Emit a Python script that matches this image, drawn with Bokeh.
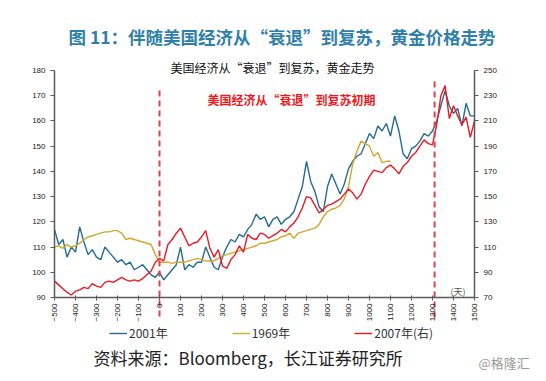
from bokeh.plotting import figure
from bokeh.models import Range1d, LinearAxis, FixedTicker, Label, Legend, LegendItem
from bokeh.embed import file_html
from bokeh.resources import INLINE

# ---------------- data ----------------
days = list(range(-500, 1501, 20))

s2001 = [117, 111, 113, 106, 110, 108, 118, 112, 107, 109,
         106, 105, 110, 108, 106, 104, 105, 103, 104, 101,
         102, 103, 101, 99, 98, 100, 97, 99, 101, 103,
         110, 101, 103, 102, 104, 104, 110, 106, 102, 101,
         106, 110, 113, 112, 115, 114, 117, 119, 123, 121,
         122, 118, 121, 122, 119, 121, 122, 124, 129, 134,
         144, 136, 132, 126, 124, 134, 139, 135, 131, 135,
         141, 144, 146, 147, 151, 155, 153, 158, 156, 159,
         154, 162, 156, 147, 145, 149, 150, 152, 155, 154,
         156, 160, 166, 172, 166, 163, 165, 158, 167, 162,
         162]

s1969 = [110, 110.5, 109.5, 111, 110, 110.5, 111.5, 113, 114, 114.5,
         115, 115.5, 116, 116, 116.5, 116.5, 115.5, 113, 113.5, 113,
         112.5, 112, 111.5, 111, 107, 104, 104, 104, 103.5, 104,
         104, 104, 104.5, 105, 105.5, 105, 104.5, 104.5, 104.5, 105.5,
         106.5, 107, 107.5, 108, 108.5, 109, 109.5, 110, 110.5, 111.5,
         111.5, 112, 112.5, 113, 114, 114.5, 115.5, 113.5, 115.5, 116,
         116.5, 117, 117.5, 119, 122, 124, 125, 125.5, 126.5, 129,
         134, 143, 148, 152, 151, 150, 146, 147.5, 143.5, 144,
         144]

s2007 = [83, 80, 77, 74, 72, 75, 76, 78, 77, 81,
         79, 78, 82, 83, 82, 84, 86, 84, 83, 84,
         83, 85, 88, 91, 98, 101, 99, 112, 116, 121,
         125, 118, 111, 113, 114, 118, 123, 109, 102, 108,
         95, 93, 100, 104, 111, 106, 120, 117, 116, 121,
         120, 117, 119, 121, 124, 122, 126, 129, 134, 141,
         150, 149, 143, 137, 140, 143, 144, 146, 148, 152,
         156, 153, 148, 152, 160, 166, 171, 170, 169, 173,
         175, 172, 168, 174, 177, 182, 185, 190, 195, 192,
         191, 207, 230, 238, 212, 222, 214, 207, 213, 197,
         210]

x_ticks = [-500, -400, -300, -200, -100, 0, 100, 200, 300, 400, 500, 600, 700,
           800, 900, 1000, 1100, 1200, 1300, 1400, 1500]
left_ticks = [90, 100, 110, 120, 130, 140, 150, 160, 170, 180]
right_ticks = [70, 90, 110, 130, 150, 170, 190, 210, 230, 250]
recession_marks = [0, 1310]
series_names = ["2001年", "1969年", "2007年(右)"]

X_MIN, X_MAX = -500, 1500
YL_MIN, YL_MAX = 90, 180
YR_MIN, YR_MAX = 70, 250

# ---------------- layout geometry (page pixels) ----------------
W, H = 530, 372
FX, FY = 8, 8                     # figure origin on the page
PL, PR, PT, PB = 62, 482, 78, 305  # data area on the page

kx = (X_MAX - X_MIN) / (PR - PL)
kyl = (YL_MAX - YL_MIN) / (PB - PT)
kyr = (YR_MAX - YR_MIN) / (PB - PT)
x_range = Range1d(X_MIN - (PL - FX) * kx, X_MAX + (FX + W - PR) * kx)
yl_range = Range1d(YL_MIN - (FY + H - PB) * kyl, YL_MAX + (PT - FY) * kyl)
yr_range = Range1d(YR_MIN - (FY + H - PB) * kyr, YR_MAX + (PT - FY) * kyr)


def px2x(px):
    return X_MIN + (px - PL) * kx


def py2y(py):
    return YL_MAX - (py - PT) * kyl


CJK = "Noto Sans CJK SC"
LAT = "Liberation Sans"

p = figure(width=W, height=H, output_backend="svg", toolbar_location=None,
           x_range=x_range, y_range=yl_range,
           min_border=0, min_border_left=0, min_border_right=0,
           min_border_top=0, min_border_bottom=0)
p.extra_y_ranges = {"right": yr_range}
p.outline_line_color = None
p.grid.visible = False
p.background_fill_color = "white"
p.border_fill_color = "white"

axis_col = "#5a5a5a"


def style_axis(ax):
    ax.axis_line_color = axis_col
    ax.axis_line_width = 1.5
    ax.major_tick_line_color = axis_col
    ax.minor_tick_line_color = None
    ax.major_label_text_font = LAT
    ax.major_label_text_font_size = "8px"
    ax.major_label_text_color = "#222222"


xa = p.xaxis[0]
style_axis(xa)
xa.ticker = FixedTicker(ticks=x_ticks)
xa.fixed_location = YL_MIN
xa.bounds = (X_MIN, X_MAX)
xa.major_label_orientation = 1.5708
xa.major_tick_in = 2
xa.major_tick_out = 3
xa.major_label_standoff = 3

ya = p.yaxis[0]
style_axis(ya)
ya.ticker = FixedTicker(ticks=left_ticks)
ya.fixed_location = X_MIN
ya.bounds = (YL_MIN, YL_MAX)
ya.major_tick_in = 0
ya.major_tick_out = 4
ya.major_label_standoff = 5

ry = LinearAxis(y_range_name="right", ticker=FixedTicker(ticks=right_ticks))
style_axis(ry)
ry.fixed_location = X_MAX
ry.bounds = (YR_MIN, YR_MAX)
ry.major_tick_in = 0
ry.major_tick_out = 4
ry.major_label_standoff = 5
p.add_layout(ry, "right")

blue = "#236b97"
gold = "#d2a82c"
red = "#f01820"

r1 = p.line(days[:len(s2001)], s2001, line_color=blue, line_width=1.4)
r2 = p.line(days[:len(s1969)], s1969, line_color=gold, line_width=1.4)
r3 = p.line(days[:len(s2007)], s2007, line_color=red, line_width=1.4,
            y_range_name="right")

# recession / recovery markers (dashed, running through the tick labels)
p.segment(x0=recession_marks, x1=recession_marks,
          y0=[py2y(98), py2y(89)], y1=[py2y(326), py2y(326)],
          line_color="#e0404a", line_width=2, line_dash="6 4")

legend = Legend(items=[LegendItem(label=series_names[0], renderers=[r1]),
                       LegendItem(label=series_names[1], renderers=[r2]),
                       LegendItem(label=series_names[2], renderers=[r3])],
                orientation="horizontal", location=(117 - FX, FY + H - 349),
                spacing=64, glyph_width=18, glyph_height=14, label_standoff=2,
                border_line_color=None, background_fill_alpha=0,
                padding=0, margin=0, label_text_font=CJK, label_height=14,
                label_text_font_size="12px", label_text_color="#333333")
p.add_layout(legend, "center")

texts = [
    ("图 11：伴随美国经济从“衰退”到复苏，黄金价格走势", 76, 44, "17.5px", "bold", "#2f7fab"),
    ("美国经济从“衰退”到复苏，黄金走势", 178, 75, "12px", "normal", "#111111"),
    ("美国经济从“衰退”到复苏初期", 215, 107, "12px", "bold", red),
    ("(天)", 458, 299, "9px", "normal", "#555555"),
    ("资料来源：Bloomberg，长江证券研究所", 101, 365, "17px", "normal", "#222222"),
    ("@格隆汇", 486, 370, "13px", "normal", "#9a9a9a"),
]
for t, px, py, fs, fst, col in texts:
    p.add_layout(Label(x=px2x(px), y=py2y(py), text=t, text_font=CJK,
                       text_font_size=fs, text_font_style=fst, text_color=col,
                       text_baseline="middle", text_align="left"))

open("out.html", "w").write(file_html(p, INLINE))
